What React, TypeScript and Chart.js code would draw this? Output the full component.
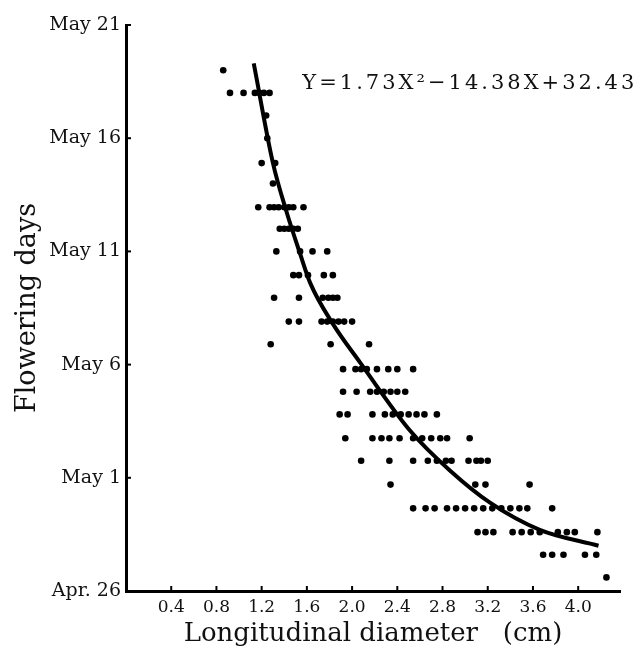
import React, { useEffect, useRef } from 'react';
import { Chart, registerables } from 'chart.js';

Chart.register(...registerables);

// Flowering day offsets (days after Apr. 26) for each row of observations
const rowDays: number[] = [
  23.0, 22.0, 21.0, 20.0, 18.9, 18.0, 16.95, 16.0, 15.0, 13.95, 12.95, 11.9,
  10.9, 9.8, 8.8, 7.8, 6.75, 5.75, 4.7, 3.65, 2.6, 1.6, 0.6,
];

// Longitudinal diameters (cm) observed on each row
const rowDiameters: number[][] = [
  [0.86],
  [0.92, 1.04, 1.14, 1.18, 1.22, 1.27],
  [1.24],
  [1.25],
  [1.2, 1.32],
  [1.3],
  [1.17, 1.27, 1.31, 1.35, 1.4, 1.44, 1.48, 1.57],
  [1.36, 1.4, 1.44, 1.48, 1.52],
  [1.33, 1.54, 1.65, 1.78],
  [1.48, 1.53, 1.61, 1.75, 1.83],
  [1.31, 1.53, 1.74, 1.79, 1.83, 1.87],
  [1.44, 1.53, 1.73, 1.78, 1.83, 1.88, 1.93, 2.0],
  [1.28, 1.81, 2.15],
  [1.92, 2.03, 2.08, 2.13, 2.22, 2.32, 2.4, 2.54],
  [1.92, 2.04, 2.16, 2.22, 2.28, 2.34, 2.4, 2.47],
  [1.89, 1.96, 2.18, 2.29, 2.36, 2.43, 2.5, 2.57, 2.64, 2.75],
  [1.94, 2.18, 2.26, 2.33, 2.42, 2.54, 2.62, 2.7, 2.78, 2.84, 3.04],
  [2.08, 2.33, 2.54, 2.67, 2.75, 2.83, 2.88, 3.03, 3.1, 3.14, 3.2],
  [2.34, 3.09, 3.18, 3.57],
  [2.54, 2.65, 2.73, 2.84, 2.92, 3.0, 3.08, 3.16, 3.24, 3.32, 3.4, 3.48, 3.55, 3.77],
  [3.11, 3.18, 3.25, 3.42, 3.5, 3.58, 3.66, 3.82, 3.9, 3.97, 4.17],
  [3.69, 3.77, 3.87, 4.06, 4.16],
  [4.25],
];

// Fitted regression curve as drawn in the figure
const curveX: number[] = [1.13, 1.3, 1.42, 1.54, 1.63, 1.83, 2.07, 2.51, 2.87, 3.22, 3.66, 4.18];
const curveY: number[] = [23.3, 18.9, 16.75, 14.9, 13.6, 11.8, 10.1, 7.1, 5.3, 3.9, 2.7, 2.0];

const xTickValues: number[] = [0.4, 0.8, 1.2, 1.6, 2.0, 2.4, 2.8, 3.2, 3.6, 4.0];
const xTickLabels: string[] = ['0.4', '0.8', '1.2', '1.6', '2.0', '2.4', '2.8', '3.2', '3.6', '4.0'];
const yTickValues: number[] = [0, 5, 10, 15, 20, 25];
const yTickLabels: string[] = ['Apr. 26', 'May 1', 'May 6', 'May 11', 'May 16', 'May 21'];

const equationText = 'Y=1.73X\u00B2\u221214.38X+32.43';
const equationPos = { x: 1.56, y: 22.4 };

const SERIF = "'DejaVu Serif', 'Liberation Serif', serif";

const innerTicksPlugin = {
  id: 'innerTicks',
  afterDraw(chart: any) {
    const { ctx, chartArea, scales } = chart;
    ctx.save();
    ctx.strokeStyle = '#000';
    ctx.lineWidth = 2;
    xTickValues.forEach((v) => {
      const px = scales.x.getPixelForValue(v);
      ctx.beginPath();
      ctx.moveTo(px, chartArea.bottom);
      ctx.lineTo(px, chartArea.bottom - 5);
      ctx.stroke();
    });
    yTickValues.forEach((v) => {
      const py = scales.y.getPixelForValue(v);
      ctx.beginPath();
      ctx.moveTo(chartArea.left, py);
      ctx.lineTo(chartArea.left + 5, py);
      ctx.stroke();
    });
    // regression equation annotation
    const ex = scales.x.getPixelForValue(equationPos.x);
    const ey = scales.y.getPixelForValue(equationPos.y);
    ctx.fillStyle = '#111';
    ctx.font = `21px ${SERIF}`;
    (ctx as any).letterSpacing = '3px';
    ctx.textAlign = 'left';
    ctx.textBaseline = 'middle';
    ctx.fillText(equationText, ex, ey);
    ctx.restore();
  },
};

export default function App() {
  const canvasRef = useRef<HTMLCanvasElement | null>(null);

  useEffect(() => {
    if (!canvasRef.current) return;
    const points: { x: number; y: number }[] = [];
    rowDays.forEach((d, i) => {
      rowDiameters[i].forEach((x) => points.push({ x, y: d }));
    });
    const curve = curveX.map((x, i) => ({ x, y: curveY[i] }));

    const chart = new Chart(canvasRef.current, {
      type: 'scatter',
      data: {
        datasets: [
          {
            label: 'Observations',
            data: points,
            backgroundColor: '#000',
            borderColor: '#000',
            borderWidth: 0,
            pointRadius: 3.3,
            pointHoverRadius: 3.3,
          },
          {
            label: 'Regression',
            type: 'line',
            data: curve,
            borderColor: '#000',
            borderWidth: 4,
            pointRadius: 0,
            fill: false,
            cubicInterpolationMode: 'monotone',
            showLine: true,
          } as any,
        ],
      },
      options: {
        responsive: false,
        animation: false,
        devicePixelRatio: 1,
        layout: { padding: { top: 25, right: 19, left: 0, bottom: 0 } },
        plugins: {
          legend: { display: false },
          tooltip: { enabled: false },
        },
        scales: {
          x: {
            type: 'linear',
            min: 0,
            max: 4.37,
            grid: { display: false, drawTicks: false },
            border: { display: true, color: '#000', width: 3 },
            afterBuildTicks: (scale: any) => {
              scale.ticks = xTickValues.map((v) => ({ value: v }));
            },
            afterFit: (scale: any) => {
              scale.height = 59;
            },
            ticks: {
              autoSkip: false,
              maxRotation: 0,
              padding: 6,
              color: '#111',
              font: { family: SERIF, size: 17 },
              callback: (_v: any, i: number) => xTickLabels[i],
            },
            title: {
              display: true,
              text: 'Longitudinal diameter   (cm)',
              color: '#111',
              font: { family: SERIF, size: 26 },
              padding: { top: 0, bottom: 0 },
            },
          },
          y: {
            type: 'linear',
            min: 0,
            max: 25,
            grid: { display: false, drawTicks: false },
            border: { display: true, color: '#000', width: 3 },
            afterBuildTicks: (scale: any) => {
              scale.ticks = yTickValues.map((v) => ({ value: v }));
            },
            afterFit: (scale: any) => {
              scale.width = 126;
            },
            ticks: {
              autoSkip: false,
              padding: 5,
              color: '#111',
              font: { family: SERIF, size: 19 },
              callback: (_v: any, i: number) => yTickLabels[i],
            },
            title: {
              display: true,
              text: 'Flowering days',
              color: '#111',
              font: { family: SERIF, size: 27 },
              padding: { top: 12, bottom: 0 },
            },
          },
        },
      },
      plugins: [innerTicksPlugin],
    });
    return () => chart.destroy();
  }, []);

  return (
    <div style={{ position: 'fixed', left: 0, top: 0, width: 639, height: 650, background: '#fff' }}>
      <canvas ref={canvasRef} width={639} height={650} />
    </div>
  );
}
